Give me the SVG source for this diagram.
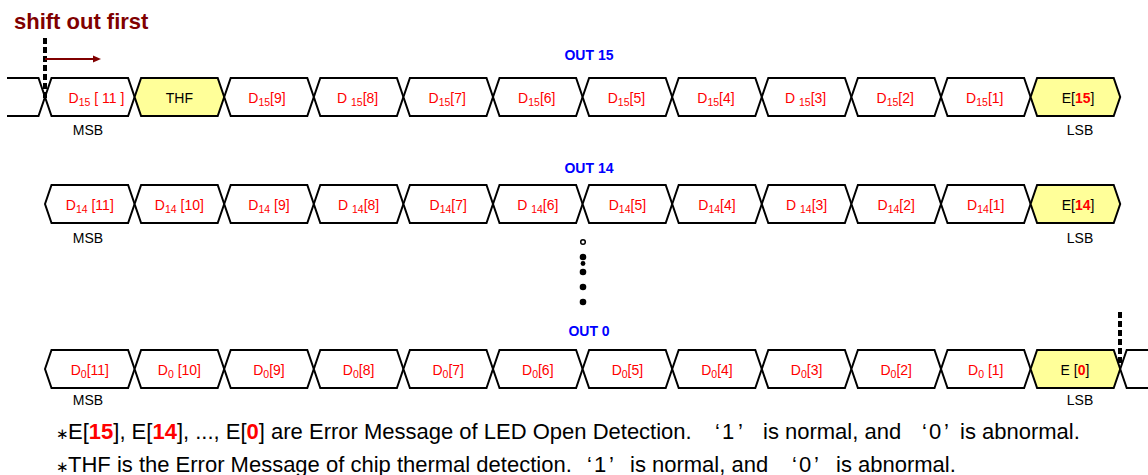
<svg xmlns="http://www.w3.org/2000/svg" xmlns:xlink="http://www.w3.org/1999/xlink" width="1148" height="475" viewBox="0 0 1148 475">
<style>
.hex{stroke:#000;stroke-width:2;fill:#fff;stroke-linejoin:miter}
.yel{fill:#ffff99}
.wire{stroke:#000;stroke-width:2;fill:none}
.lbl{font-family:"Liberation Sans",Arial,sans-serif;font-size:14px;fill:#ff0000;text-anchor:middle}
.k{fill:#000}
.rb{fill:#ff0000;font-weight:bold}
.sub{font-size:10.5px}
.out{font-family:"Liberation Sans",Arial,sans-serif;font-size:14px;font-weight:bold;fill:#0000ff;text-anchor:middle}
.ms{font-family:"Liberation Sans",Arial,sans-serif;font-size:14px;fill:#000;text-anchor:middle}
.note{font-family:"Liberation Sans",Arial,sans-serif;font-size:22px;fill:#000}
.ast{font-family:"DejaVu Sans",sans-serif;font-size:15px}
.dash{stroke:#000;stroke-width:4;stroke-dasharray:6 3;fill:none}
.dot{fill:#000}
</style>
<defs>
<polygon id="hexShape" points="0,19 6.5,0 83.1,0 89.6,19 83.1,38 6.5,38"/>
<marker id="ah" markerWidth="8" markerHeight="8" refX="0" refY="4" orient="auto" markerUnits="userSpaceOnUse"><path d="M0,0.5 L8,4 L0,7.5 z" fill="#800000"/></marker>
</defs>

<text x="14" y="29" style="font-family:'Liberation Sans',Arial,sans-serif;font-size:22px;font-weight:bold;fill:#800000">shift out first</text>

<text class="out" x="589" y="60">OUT 15</text>
<text class="out" x="589" y="173">OUT 14</text>
<text class="out" x="589" y="336">OUT 0</text>

<!-- Row 1 -->
<g id="row1">
<path class="wire" d="M7,78 H38.5 L45,97 L38.5,116 H7"/>
<g id="r1c0"><use xlink:href="#hexShape" href="#hexShape" class="hex" x="45" y="78"/><text class="lbl" x="96.5" y="103">D<tspan class="sub" dy="3">15</tspan><tspan dy="-3"> [ 11 ]</tspan></text></g>
<g id="r1c1"><use xlink:href="#hexShape" href="#hexShape" class="hex yel" x="134.6" y="78"/><text class="lbl k" x="179.4" y="103">THF</text></g>
<g id="r1c2"><use xlink:href="#hexShape" href="#hexShape" class="hex" x="224.2" y="78"/><text class="lbl" x="267" y="103">D<tspan class="sub" dy="3">15</tspan><tspan dy="-3">[9]</tspan></text></g>
<g id="r1c3"><use xlink:href="#hexShape" href="#hexShape" class="hex" x="313.8" y="78"/><text class="lbl" x="357.6" y="103">D <tspan class="sub" dy="3">15</tspan><tspan dy="-3">[8]</tspan></text></g>
<g id="r1c4"><use xlink:href="#hexShape" href="#hexShape" class="hex" x="403.4" y="78"/><text class="lbl" x="447.2" y="103">D<tspan class="sub" dy="3">15</tspan><tspan dy="-3">[7]</tspan></text></g>
<g id="r1c5"><use xlink:href="#hexShape" href="#hexShape" class="hex" x="493" y="78"/><text class="lbl" x="536.8" y="103">D<tspan class="sub" dy="3">15</tspan><tspan dy="-3">[6]</tspan></text></g>
<g id="r1c6"><use xlink:href="#hexShape" href="#hexShape" class="hex" x="582.6" y="78"/><text class="lbl" x="626.4" y="103">D<tspan class="sub" dy="3">15</tspan><tspan dy="-3">[5]</tspan></text></g>
<g id="r1c7"><use xlink:href="#hexShape" href="#hexShape" class="hex" x="672.2" y="78"/><text class="lbl" x="716" y="103">D<tspan class="sub" dy="3">15</tspan><tspan dy="-3">[4]</tspan></text></g>
<g id="r1c8"><use xlink:href="#hexShape" href="#hexShape" class="hex" x="761.8" y="78"/><text class="lbl" x="805.6" y="103">D <tspan class="sub" dy="3">15</tspan><tspan dy="-3">[3]</tspan></text></g>
<g id="r1c9"><use xlink:href="#hexShape" href="#hexShape" class="hex" x="851.4" y="78"/><text class="lbl" x="895.2" y="103">D<tspan class="sub" dy="3">15</tspan><tspan dy="-3">[2]</tspan></text></g>
<g id="r1c10"><use xlink:href="#hexShape" href="#hexShape" class="hex" x="941" y="78"/><text class="lbl" x="984.8" y="103">D<tspan class="sub" dy="3">15</tspan><tspan dy="-3">[1]</tspan></text></g>
<g id="r1c11"><use xlink:href="#hexShape" href="#hexShape" class="hex yel" x="1030.6" y="78"/><text class="lbl k" x="1078" y="103">E[<tspan class="rb">15</tspan>]</text></g>
<text class="ms" x="88" y="135">MSB</text>
<text class="ms" x="1080" y="135">LSB</text>
</g>

<!-- Row 2 -->
<g id="row2">
<g id="r2c0"><use xlink:href="#hexShape" href="#hexShape" class="hex" x="45" y="185"/><text class="lbl" x="89.8" y="209.5">D<tspan class="sub" dy="3">14</tspan><tspan dy="-3"> [11]</tspan></text></g>
<g id="r2c1"><use xlink:href="#hexShape" href="#hexShape" class="hex" x="134.6" y="185"/><text class="lbl" x="179.4" y="209.5">D<tspan class="sub" dy="3">14</tspan><tspan dy="-3"> [10]</tspan></text></g>
<g id="r2c2"><use xlink:href="#hexShape" href="#hexShape" class="hex" x="224.2" y="185"/><text class="lbl" x="269" y="209.5">D<tspan class="sub" dy="3">14</tspan><tspan dy="-3"> [9]</tspan></text></g>
<g id="r2c3"><use xlink:href="#hexShape" href="#hexShape" class="hex" x="313.8" y="185"/><text class="lbl" x="358.6" y="209.5">D <tspan class="sub" dy="3">14</tspan><tspan dy="-3">[8]</tspan></text></g>
<g id="r2c4"><use xlink:href="#hexShape" href="#hexShape" class="hex" x="403.4" y="185"/><text class="lbl" x="448.2" y="209.5">D<tspan class="sub" dy="3">14</tspan><tspan dy="-3">[7]</tspan></text></g>
<g id="r2c5"><use xlink:href="#hexShape" href="#hexShape" class="hex" x="493" y="185"/><text class="lbl" x="537.8" y="209.5">D <tspan class="sub" dy="3">14</tspan><tspan dy="-3">[6]</tspan></text></g>
<g id="r2c6"><use xlink:href="#hexShape" href="#hexShape" class="hex" x="582.6" y="185"/><text class="lbl" x="627.4" y="209.5">D<tspan class="sub" dy="3">14</tspan><tspan dy="-3">[5]</tspan></text></g>
<g id="r2c7"><use xlink:href="#hexShape" href="#hexShape" class="hex" x="672.2" y="185"/><text class="lbl" x="717" y="209.5">D<tspan class="sub" dy="3">14</tspan><tspan dy="-3">[4]</tspan></text></g>
<g id="r2c8"><use xlink:href="#hexShape" href="#hexShape" class="hex" x="761.8" y="185"/><text class="lbl" x="806.6" y="209.5">D <tspan class="sub" dy="3">14</tspan><tspan dy="-3">[3]</tspan></text></g>
<g id="r2c9"><use xlink:href="#hexShape" href="#hexShape" class="hex" x="851.4" y="185"/><text class="lbl" x="896.2" y="209.5">D<tspan class="sub" dy="3">14</tspan><tspan dy="-3">[2]</tspan></text></g>
<g id="r2c10"><use xlink:href="#hexShape" href="#hexShape" class="hex" x="941" y="185"/><text class="lbl" x="985.8" y="209.5">D<tspan class="sub" dy="3">14</tspan><tspan dy="-3">[1]</tspan></text></g>
<g id="r2c11"><use xlink:href="#hexShape" href="#hexShape" class="hex yel" x="1030.6" y="185"/><text class="lbl k" x="1078" y="209.5">E[<tspan class="rb">14</tspan>]</text></g>
<text class="ms" x="88" y="242.5">MSB</text>
<text class="ms" x="1080" y="242.5">LSB</text>
</g>

<!-- dots -->
<g id="ellipsis">
<circle cx="583" cy="242" r="2.3" fill="#fff" stroke="#000" stroke-width="1.5"/>
<circle class="dot" cx="583" cy="257" r="3.3"/>
<circle class="dot" cx="583" cy="263.5" r="2.4"/>
<circle class="dot" cx="583" cy="272" r="3.3"/>
<circle class="dot" cx="583" cy="287" r="3.3"/>
<circle class="dot" cx="583" cy="302" r="3.3"/>
</g>

<!-- Row 3 -->
<g id="row3">
<g id="r3c0"><use xlink:href="#hexShape" href="#hexShape" class="hex" x="45" y="350"/><text class="lbl" x="89.8" y="374.5">D<tspan class="sub" dy="3">0</tspan><tspan dy="-3">[11]</tspan></text></g>
<g id="r3c1"><use xlink:href="#hexShape" href="#hexShape" class="hex" x="134.6" y="350"/><text class="lbl" x="179.4" y="374.5">D<tspan class="sub" dy="3">0</tspan><tspan dy="-3"> [10]</tspan></text></g>
<g id="r3c2"><use xlink:href="#hexShape" href="#hexShape" class="hex" x="224.2" y="350"/><text class="lbl" x="269" y="374.5">D<tspan class="sub" dy="3">0</tspan><tspan dy="-3">[9]</tspan></text></g>
<g id="r3c3"><use xlink:href="#hexShape" href="#hexShape" class="hex" x="313.8" y="350"/><text class="lbl" x="358.6" y="374.5">D<tspan class="sub" dy="3">0</tspan><tspan dy="-3">[8]</tspan></text></g>
<g id="r3c4"><use xlink:href="#hexShape" href="#hexShape" class="hex" x="403.4" y="350"/><text class="lbl" x="448.2" y="374.5">D<tspan class="sub" dy="3">0</tspan><tspan dy="-3">[7]</tspan></text></g>
<g id="r3c5"><use xlink:href="#hexShape" href="#hexShape" class="hex" x="493" y="350"/><text class="lbl" x="537.8" y="374.5">D<tspan class="sub" dy="3">0</tspan><tspan dy="-3">[6]</tspan></text></g>
<g id="r3c6"><use xlink:href="#hexShape" href="#hexShape" class="hex" x="582.6" y="350"/><text class="lbl" x="627.4" y="374.5">D<tspan class="sub" dy="3">0</tspan><tspan dy="-3">[5]</tspan></text></g>
<g id="r3c7"><use xlink:href="#hexShape" href="#hexShape" class="hex" x="672.2" y="350"/><text class="lbl" x="717" y="374.5">D<tspan class="sub" dy="3">0</tspan><tspan dy="-3">[4]</tspan></text></g>
<g id="r3c8"><use xlink:href="#hexShape" href="#hexShape" class="hex" x="761.8" y="350"/><text class="lbl" x="806.6" y="374.5">D<tspan class="sub" dy="3">0</tspan><tspan dy="-3">[3]</tspan></text></g>
<g id="r3c9"><use xlink:href="#hexShape" href="#hexShape" class="hex" x="851.4" y="350"/><text class="lbl" x="896.2" y="374.5">D<tspan class="sub" dy="3">0</tspan><tspan dy="-3">[2]</tspan></text></g>
<g id="r3c10"><use xlink:href="#hexShape" href="#hexShape" class="hex" x="941" y="350"/><text class="lbl" x="985.8" y="374.5">D<tspan class="sub" dy="3">0</tspan><tspan dy="-3"> [1]</tspan></text></g>
<g id="r3c11"><use xlink:href="#hexShape" href="#hexShape" class="hex yel" x="1030.6" y="350"/><text class="lbl k" x="1075" y="374.5">E [<tspan class="rb">0</tspan>]</text></g>
<path class="wire" d="M1148,350 H1126.7 L1120.2,369 L1126.7,388 H1148"/>
<text class="ms" x="88" y="405">MSB</text>
<text class="ms" x="1080" y="405">LSB</text>
</g>

<g id="connectors">
<line class="dash" x1="45" y1="38" x2="45" y2="100"/>
<line x1="45" y1="59" x2="93" y2="59" stroke="#800000" stroke-width="2" marker-end="url(#ah)"/>
<line class="dash" x1="1120" y1="312" x2="1120" y2="366"/>
</g>

<g id="notes">
<text class="note" y="439"><tspan class="ast" x="56">∗</tspan><tspan x="68">E[</tspan><tspan class="rb">15</tspan>], E[<tspan class="rb">14</tspan>], ..., E[<tspan class="rb">0</tspan>] are Error Message of LED Open Detection.<tspan x="715">‘</tspan><tspan x="722">1</tspan><tspan x="738">’</tspan><tspan x="763">is normal, and</tspan><tspan x="922">‘</tspan><tspan x="929">0</tspan><tspan x="944">’</tspan><tspan x="960">is abnormal.</tspan></text>
<text class="note" y="472"><tspan class="ast" x="56">∗</tspan><tspan x="68">THF is the Error Message of chip thermal detection.</tspan><tspan x="587">‘</tspan><tspan x="594">1</tspan><tspan x="609">’</tspan><tspan x="630">is normal, and</tspan><tspan x="792">‘</tspan><tspan x="799">0</tspan><tspan x="814">’</tspan><tspan x="836">is abnormal.</tspan></text>
</g>
</svg>
